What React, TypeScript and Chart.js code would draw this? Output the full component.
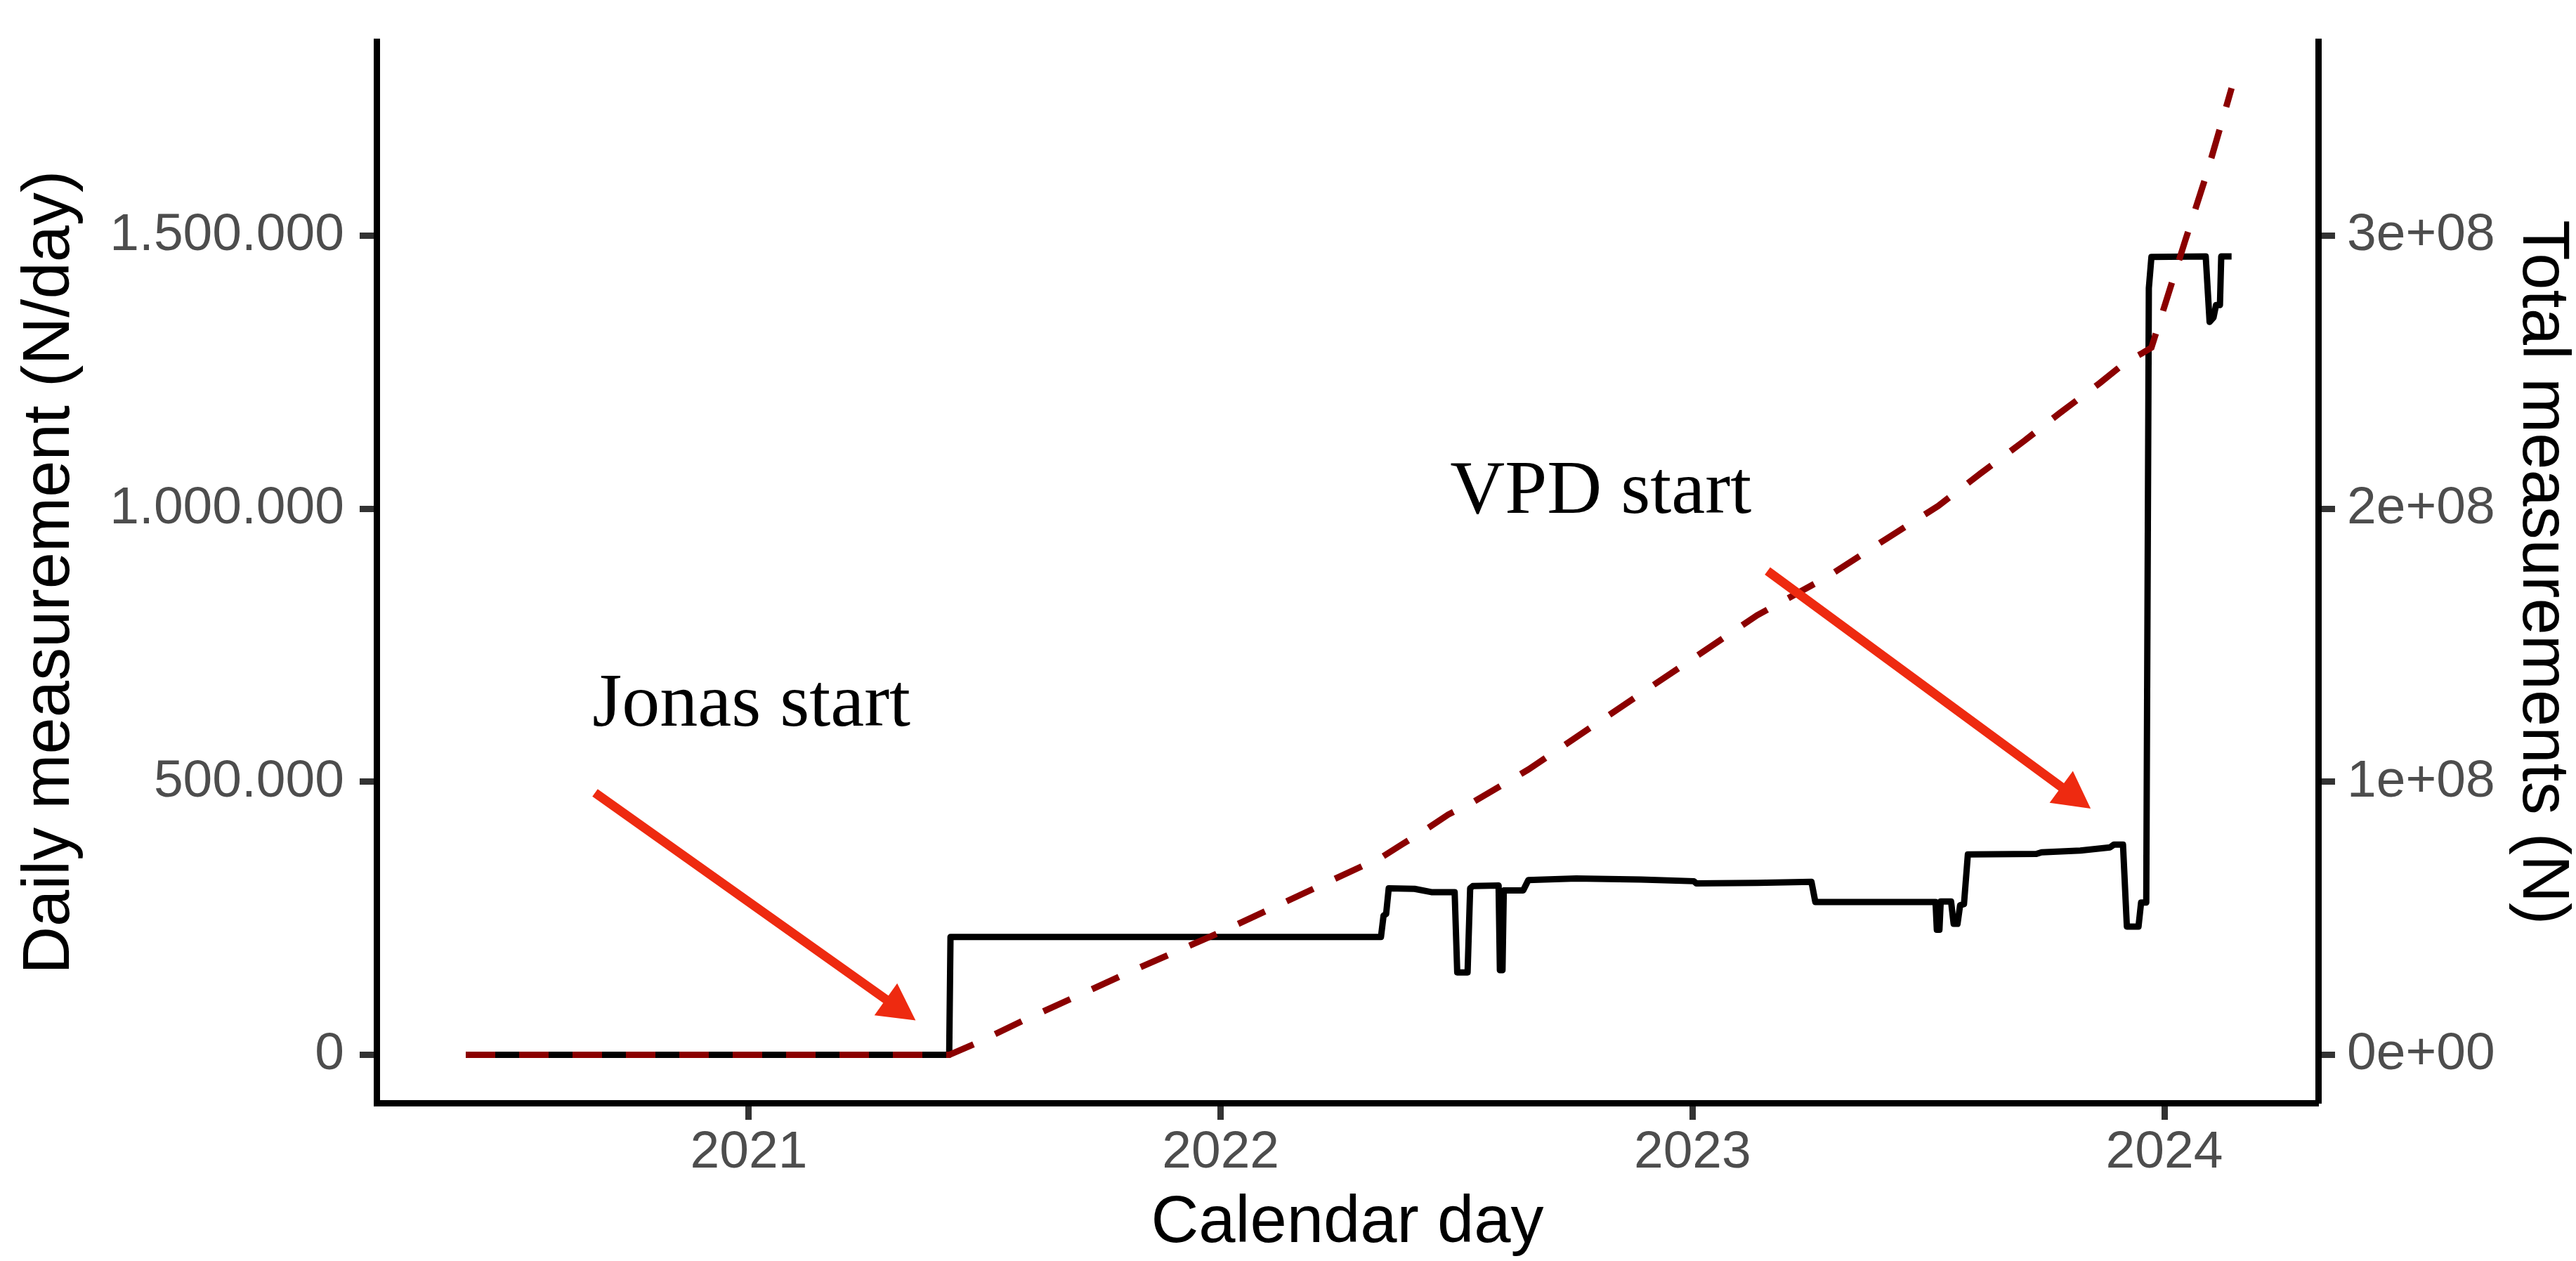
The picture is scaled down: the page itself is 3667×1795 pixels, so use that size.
import React, { useEffect, useRef } from 'react';
import { Chart, registerables } from 'chart.js';

Chart.register(...registerables);

// x values: days since 2021-01-01
const dailyDays = [
  -219, 155, 156, 489, 491, 493, 495, 515, 528, 546, 548, 556, 558, 560, 580, 581, 583, 584, 599, 603,
  640, 690, 731, 733, 780, 822, 825, 918, 919, 921, 922, 930, 932, 935, 937, 940, 943, 996, 1000, 1030,
  1053, 1056, 1063, 1066, 1075, 1077, 1081, 1083, 1085, 1127, 1130, 1133, 1135, 1138, 1139, 1147,
];
const dailyValues = [
  0, 0, 216000, 216000, 255000, 258000, 305000, 304000, 298000, 298000, 151000, 151000, 305000, 309000, 310000, 155000, 155000, 301000, 301000, 320000,
  323000, 321000, 318000, 314000, 315000, 317000, 280000, 280000, 229000, 229000, 281000, 281000, 240000, 240000, 274000, 276000, 367000, 368000, 371000, 374000,
  380000, 385000, 385000, 235000, 235000, 279000, 279000, 1404000, 1461000, 1462000, 1342000, 1350000, 1373000, 1373000, 1462000, 1462000,
];

const totalDays = [
  -219, 155, 176, 212, 300, 365, 453, 490, 505, 521, 541, 560, 603, 650, 700, 730, 780, 834, 880, 920,
  953, 987, 1014, 1045, 1066, 1078, 1085, 1095, 1111, 1128, 1136, 1147,
];
const totalValues = [
  0, 0, 4300000, 12500000, 31500000, 45000000, 64400000, 72500000, 77000000, 81700000, 88000000, 92500000, 104500000, 119500000, 135500000, 145000000, 161000000, 175000000, 189000000, 201000000,
  213000000, 225000000, 235000000, 246000000, 254000000, 257000000, 259000000, 274000000, 298000000, 323000000, 336000000, 354000000,
];

const xTickDays = [0, 365, 730, 1095];
const xTickLabels = ['2021', '2022', '2023', '2024'];
const yTickValues = [0, 500000, 1000000, 1500000];
const yTickLabels = ['0', '500.000', '1.000.000', '1.500.000'];
const y2TickValues = [0, 100000000, 200000000, 300000000];
const y2TickLabels = ['0e+00', '1e+08', '2e+08', '3e+08'];

const noteTexts = ['Jonas start', 'VPD start'];
const noteX = [2, 659];
const noteY = [603000, 992000];
const arrowFromX = [-119, 788];
const arrowFromY = [480000, 886000];
const arrowToX = [129, 1038];
const arrowToY = [63000, 451000];

const SANS = '"Liberation Sans", Arial, Helvetica, sans-serif';
const SERIF = '"Liberation Serif", "Times New Roman", serif';
const ARROW_COLOR = '#EE2A10';

const notesPlugin = {
  id: 'notes',
  afterDatasetsDraw(chart: any) {
    const { ctx, scales } = chart;
    const x = scales.x;
    const y = scales.y;
    ctx.save();
    ctx.font = `108px ${SERIF}`;
    ctx.fillStyle = '#000000';
    ctx.textAlign = 'center';
    ctx.textBaseline = 'alphabetic';
    noteTexts.forEach((t, i) => {
      ctx.fillText(t, x.getPixelForValue(noteX[i]), y.getPixelForValue(noteY[i]));
    });
    for (let i = 0; i < arrowFromX.length; i++) {
      const x1 = x.getPixelForValue(arrowFromX[i]);
      const y1 = y.getPixelForValue(arrowFromY[i]);
      const x2 = x.getPixelForValue(arrowToX[i]);
      const y2 = y.getPixelForValue(arrowToY[i]);
      const dx = x2 - x1;
      const dy = y2 - y1;
      const len = Math.hypot(dx, dy);
      const ux = dx / len;
      const uy = dy / len;
      const head = 52;
      const half = 28;
      const bx = x2 - ux * head;
      const by = y2 - uy * head;
      ctx.strokeStyle = ARROW_COLOR;
      ctx.lineWidth = 13;
      ctx.lineCap = 'butt';
      ctx.beginPath();
      ctx.moveTo(x1, y1);
      ctx.lineTo(bx + ux * 4, by + uy * 4);
      ctx.stroke();
      ctx.fillStyle = ARROW_COLOR;
      ctx.beginPath();
      ctx.moveTo(x2, y2);
      ctx.lineTo(bx - uy * half, by + ux * half);
      ctx.lineTo(bx + uy * half, by - ux * half);
      ctx.closePath();
      ctx.fill();
    }
    ctx.restore();
  },
};

const axisCommon = (tickPadding: number) => ({
  grid: {
    drawOnChartArea: false,
    drawTicks: true,
    tickLength: 24,
    tickWidth: 9,
    tickColor: '#333333',
  },
  border: { display: true, color: '#000000', width: 9 },
  ticks: {
    autoSkip: false,
    maxRotation: 0,
    minRotation: 0,
    padding: tickPadding,
    color: '#4D4D4D',
    font: { family: SANS, size: 75, lineHeight: 1 },
  },
});

export default function App() {
  const canvasRef = useRef<HTMLCanvasElement | null>(null);

  useEffect(() => {
    document.body.style.margin = '0';
    const canvas = canvasRef.current;
    if (!canvas) return;
    const chart = new Chart(canvas, {
      type: 'line',
      data: {
        datasets: [
          {
            label: 'Total measurements',
            data: totalDays.map((d, i) => ({ x: d, y: totalValues[i] })),
            yAxisID: 'y2',
            borderColor: '#8B0000',
            borderWidth: 9,
            borderDash: [42, 34],
            borderCapStyle: 'butt',
            pointRadius: 0,
            tension: 0,
            fill: false,
            order: 0,
          },
          {
            label: 'Daily measurement',
            data: dailyDays.map((d, i) => ({ x: d, y: dailyValues[i] })),
            yAxisID: 'y',
            borderColor: '#000000',
            borderWidth: 9,
            borderJoinStyle: 'round',
            borderCapStyle: 'butt',
            pointRadius: 0,
            tension: 0,
            fill: false,
            order: 1,
          },
        ],
      },
      options: {
        responsive: false,
        animation: false,
        devicePixelRatio: 1,
        layout: { padding: { top: 23, left: 0, right: 0, bottom: 0 } },
        plugins: { legend: { display: false }, tooltip: { enabled: false } },
        scales: {
          x: {
            type: 'linear',
            position: 'bottom',
            min: -288,
            max: 1214,
            ...axisCommon(10),
            ticks: {
              ...axisCommon(10).ticks,
              callback: (_v: any, i: number) => xTickLabels[i],
            },
            afterBuildTicks: (s: any) => {
              s.ticks = xTickDays.map((v) => ({ value: v }));
            },
            afterFit: (s: any) => {
              s.height = 225;
            },
            title: {
              display: true,
              text: 'Calendar day',
              color: '#000000',
              font: { family: SANS, size: 94, lineHeight: 1 },
              padding: { top: 0, bottom: 6 },
            },
          },
          y: {
            type: 'linear',
            position: 'left',
            min: -88000,
            max: 1855000,
            ...axisCommon(22),
            ticks: {
              ...axisCommon(22).ticks,
              callback: (_v: any, i: number) => yTickLabels[i],
            },
            afterBuildTicks: (s: any) => {
              s.ticks = yTickValues.map((v) => ({ value: v }));
            },
            afterFit: (s: any) => {
              s.width = 536;
            },
            title: {
              display: true,
              text: 'Daily measurement (N/day)',
              color: '#000000',
              font: { family: SANS, size: 94, lineHeight: 1 },
              padding: { top: 25, bottom: 0 },
            },
          },
          y2: {
            type: 'linear',
            position: 'right',
            min: -17600000,
            max: 371000000,
            ...axisCommon(17),
            ticks: {
              ...axisCommon(17).ticks,
              callback: (_v: any, i: number) => y2TickLabels[i],
            },
            afterBuildTicks: (s: any) => {
              s.ticks = y2TickValues.map((v) => ({ value: v }));
            },
            afterFit: (s: any) => {
              s.width = 367;
            },
            title: {
              display: true,
              text: 'Total measurements (N)',
              color: '#000000',
              font: { family: SANS, size: 94, lineHeight: 1 },
              padding: { top: 2, bottom: 0 },
            },
          },
        },
      },
      plugins: [notesPlugin],
    } as any);
    return () => chart.destroy();
  }, []);

  return (
    <div style={{ position: 'absolute', left: 0, top: 0, width: 3667, height: 1795, background: '#ffffff' }}>
      <canvas ref={canvasRef} width={3667} height={1795} style={{ width: 3667, height: 1795, display: 'block' }} />
    </div>
  );
}
